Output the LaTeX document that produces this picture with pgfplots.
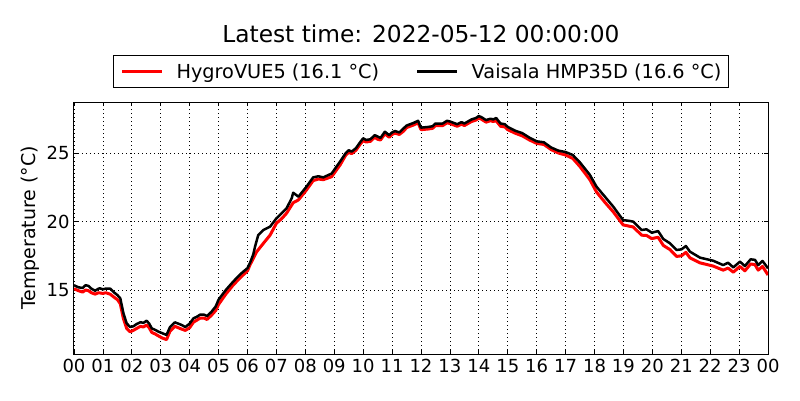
\documentclass[border=0pt]{standalone}
\usepackage{fontspec}
\setmainfont{DejaVu Sans}
\usepackage{pgfplots}
\pgfplotsset{compat=1.18}
\begin{document}
\begin{tikzpicture}
\begin{axis}[
  at={(0,0)}, anchor=south west,
  scale only axis, width=694pt, height=252pt,
  xmin=0, xmax=24, ymin=10.33, ymax=28.72,
  xtick={0,1,...,24},
  xticklabels={00,01,02,03,04,05,06,07,08,09,10,11,12,13,14,15,16,17,18,19,20,21,22,23,00},
  ytick={15,20,25},
  /pgf/number format/assume math mode=true,
  ticklabel style={font=\fontsize{18}{21}\selectfont},
  xticklabel style={yshift=-2pt},
  yticklabel style={xshift=-1pt},
  tick align=inside, tick pos=both,
  major tick length=4pt,
  tick style={black, line width=0.8pt},
  axis line style={black, line width=1pt},
  grid=major,
  grid style={black, dash pattern=on 1pt off 3pt, line width=0.7pt},
  title={Latest time: 2022-05-12 00:00:00},
  every axis title/.style={at={(axis description cs:0.5,1)}, anchor=center, yshift=68pt, font=\fontsize{23.3}{27}\selectfont},
  ylabel={Temperature (°C)},
  every axis y label/.style={at={(axis description cs:-0.0634,0.5)}, rotate=90, anchor=center, font=\fontsize{19}{23}\selectfont},
  legend columns=2,
  legend style={at={(axis description cs:0.5,1)}, anchor=center, yshift=30.5pt,
    draw=black, line width=1pt, font=\fontsize{19.3}{23}\selectfont,
    inner xsep=7pt, inner ysep=7.5pt,
    nodes={inner sep=0pt},
    /tikz/every odd column/.append style={column sep=13pt},
    /tikz/every even column/.append style={column sep=37pt}},
  legend image code/.code={\draw[#1] (0pt,0pt) -- (40pt,0pt);},
]
\addplot[red, line width=3pt, line join=round] coordinates {
(0.00,15.1)(0.15,14.95)(0.3,14.85)(0.4,15.0)(0.5,14.95)(0.6,14.8)(0.73,14.7)(0.85,14.8)(1.0,14.75)(1.1,14.8)(1.25,14.7)(1.4,14.45)(1.5,14.3)(1.6,14.0)(1.71,12.9)(1.82,12.2)(1.94,11.95)(2.05,12.05)(2.17,12.2)(2.3,12.35)(2.4,12.3)(2.51,12.45)(2.6,12.25)(2.69,11.9)(2.8,11.8)(2.92,11.65)(3.05,11.5)(3.2,11.38)(3.32,12.0)(3.49,12.35)(3.6,12.25)(3.72,12.15)(3.85,12.05)(4.0,12.25)(4.13,12.65)(4.25,12.8)(4.36,12.95)(4.5,12.95)(4.6,12.85)(4.75,13.15)(4.9,13.5)(5.0,13.95)(5.25,14.7)(5.5,15.35)(5.75,15.9)(6.0,16.4)(6.09,16.85)(6.32,17.8)(6.55,18.41)(6.78,19.0)(7.0,19.87)(7.18,20.2)(7.35,20.6)(7.58,21.37)(7.76,21.57)(8.04,22.3)(8.27,22.98)(8.45,23.1)(8.62,23.05)(8.91,23.27)(9.2,24.12)(9.4,24.85)(9.5,25.05)(9.6,24.95)(9.75,25.2)(9.9,25.65)(10.0,25.9)(10.1,25.8)(10.25,25.85)(10.4,26.15)(10.5,26.0)(10.6,25.95)(10.75,26.4)(10.9,26.15)(11.0,26.35)(11.1,26.45)(11.25,26.35)(11.4,26.6)(11.5,26.85)(11.75,27.05)(11.9,27.2)(12.0,26.7)(12.25,26.75)(12.4,26.8)(12.5,27.0)(12.75,27.0)(12.9,27.2)(13.0,27.15)(13.25,26.95)(13.4,27.1)(13.5,27.0)(13.75,27.3)(13.9,27.4)(14.0,27.55)(14.1,27.45)(14.25,27.25)(14.4,27.35)(14.5,27.3)(14.6,27.35)(14.75,26.95)(14.9,26.9)(15.0,26.7)(15.25,26.45)(15.5,26.25)(15.75,25.95)(16.0,25.7)(16.25,25.62)(16.5,25.25)(16.75,25.0)(17.0,24.85)(17.25,24.6)(17.5,24.0)(17.84,23.05)(18.07,22.15)(18.36,21.4)(18.65,20.7)(18.99,19.75)(19.22,19.65)(19.34,19.6)(19.63,19.0)(19.8,18.98)(19.98,18.75)(20.2,18.85)(20.38,18.25)(20.61,17.95)(20.84,17.45)(21.01,17.5)(21.16,17.75)(21.3,17.35)(21.65,16.98)(22.1,16.75)(22.45,16.45)(22.62,16.6)(22.8,16.3)(23.03,16.72)(23.2,16.4)(23.4,16.9)(23.55,16.85)(23.66,16.45)(23.81,16.72)(24.0,16.1)
};
\addlegendentry{HygroVUE5 (16.1 °C)}
\addplot[black, line width=2.5pt, line join=round] coordinates {
(0.00,15.35)(0.15,15.2)(0.3,15.15)(0.4,15.35)(0.5,15.3)(0.6,15.1)(0.73,14.95)(0.85,15.1)(0.9,15.12)(1.0,15.05)(1.1,15.1)(1.25,15.1)(1.4,14.8)(1.5,14.63)(1.6,14.4)(1.71,13.3)(1.82,12.57)(1.94,12.3)(2.05,12.35)(2.17,12.52)(2.3,12.65)(2.4,12.6)(2.51,12.76)(2.6,12.55)(2.69,12.2)(2.8,12.1)(2.92,11.96)(3.05,11.85)(3.2,11.72)(3.32,12.3)(3.49,12.64)(3.6,12.55)(3.72,12.45)(3.85,12.3)(4.0,12.55)(4.13,12.93)(4.25,13.05)(4.36,13.2)(4.5,13.2)(4.6,13.1)(4.75,13.4)(4.9,13.8)(5.0,14.3)(5.25,15.0)(5.5,15.6)(5.75,16.15)(6.0,16.6)(6.09,17.0)(6.2,17.6)(6.26,18.16)(6.37,19.0)(6.55,19.38)(6.78,19.62)(7.0,20.23)(7.18,20.6)(7.35,20.96)(7.53,21.7)(7.58,22.1)(7.76,21.81)(8.04,22.54)(8.27,23.22)(8.45,23.3)(8.62,23.22)(8.91,23.5)(9.2,24.37)(9.4,25.0)(9.5,25.2)(9.6,25.1)(9.75,25.35)(9.9,25.8)(10.0,26.07)(10.1,25.95)(10.25,26.0)(10.4,26.3)(10.5,26.2)(10.6,26.1)(10.75,26.55)(10.9,26.3)(11.0,26.5)(11.1,26.6)(11.25,26.5)(11.4,26.8)(11.5,27.0)(11.75,27.2)(11.9,27.35)(12.0,26.85)(12.25,26.9)(12.4,26.95)(12.5,27.15)(12.75,27.15)(12.9,27.35)(13.0,27.3)(13.25,27.1)(13.4,27.25)(13.5,27.15)(13.75,27.45)(13.9,27.55)(14.0,27.7)(14.1,27.6)(14.25,27.4)(14.4,27.5)(14.5,27.45)(14.6,27.55)(14.75,27.15)(14.9,27.1)(15.0,26.9)(15.25,26.63)(15.5,26.45)(15.75,26.12)(16.0,25.85)(16.25,25.78)(16.5,25.4)(16.75,25.17)(17.0,25.07)(17.25,24.85)(17.5,24.3)(17.84,23.4)(18.07,22.54)(18.36,21.81)(18.65,21.08)(18.99,20.1)(19.22,20.04)(19.34,19.99)(19.63,19.38)(19.8,19.43)(19.98,19.18)(20.2,19.3)(20.38,18.72)(20.61,18.41)(20.84,17.92)(21.01,17.97)(21.16,18.21)(21.3,17.8)(21.65,17.36)(22.1,17.14)(22.45,16.82)(22.62,16.99)(22.8,16.65)(23.03,17.07)(23.2,16.75)(23.4,17.24)(23.55,17.2)(23.66,16.82)(23.81,17.12)(24.0,16.58)
};
\addlegendentry{Vaisala HMP35D (16.6 °C)}
\end{axis}
\path[use as bounding box] (-74pt,-46pt) rectangle (726pt,354pt);
\end{tikzpicture}
\end{document}
